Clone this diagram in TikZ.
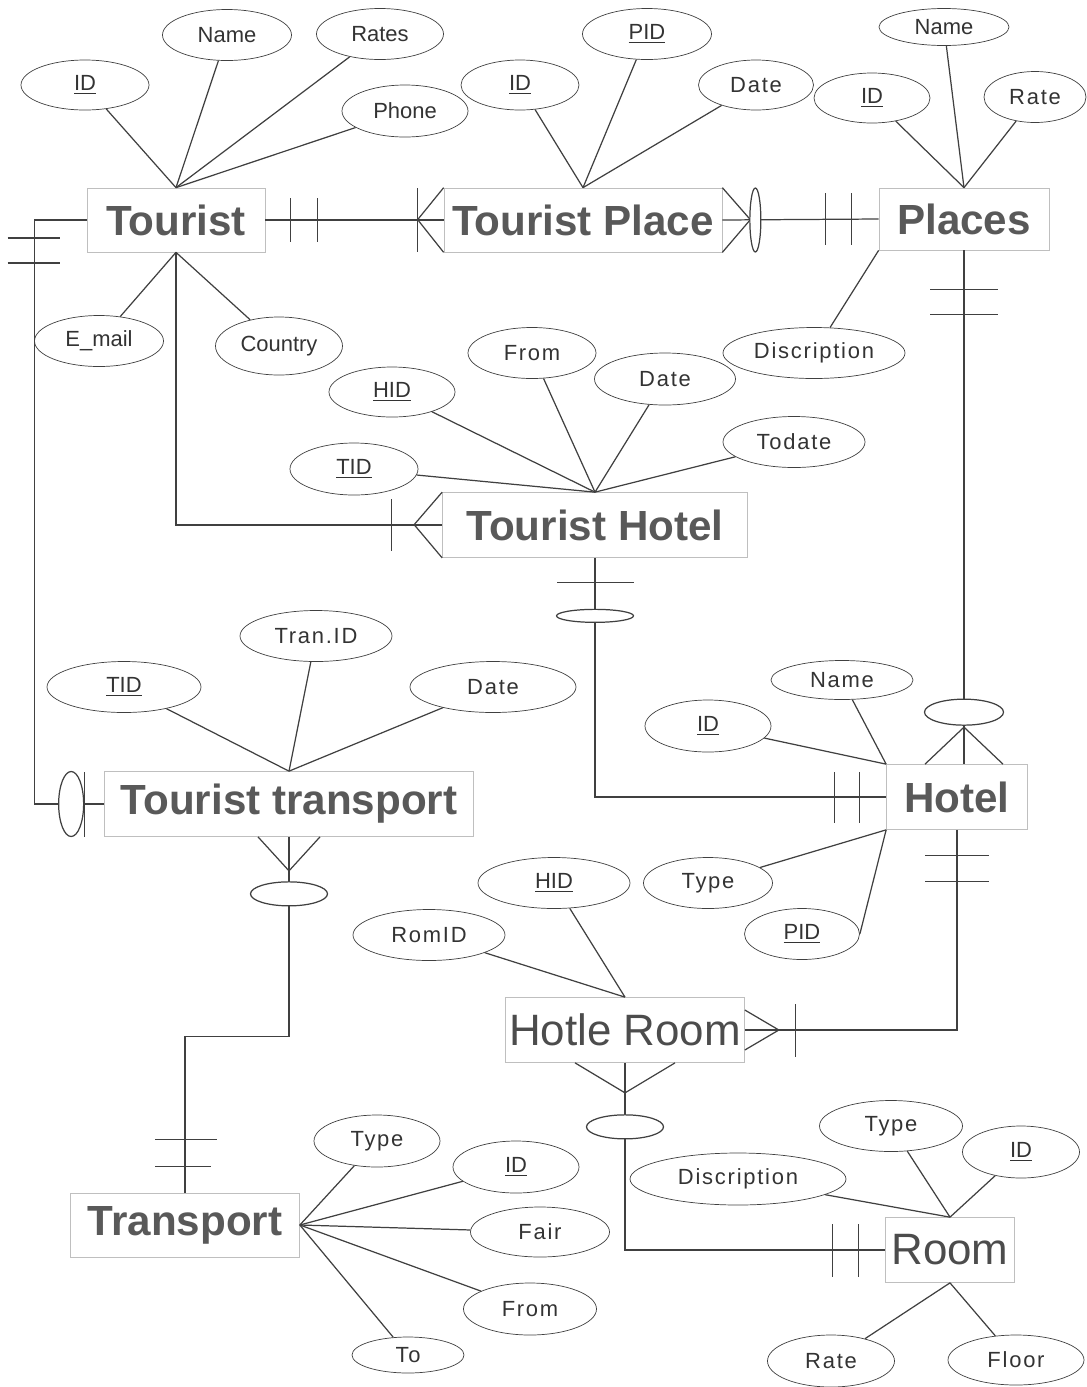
\documentclass[tikz,border=0pt]{standalone}
\usepackage{fontspec}
\setmainfont{Liberation Sans}
\newfontfamily\widefont[LetterSpace=8]{Liberation Sans}
\usetikzlibrary{shapes.geometric}

\tikzset{
  dims/.style 2 args={minimum width=#1*0.02cm, minimum height=#2*0.02cm},
  entity/.style={draw=black!25, rectangle, inner sep=0pt, text=black!65,
                 font=\fontsize{24}{28}\selectfont\bfseries},
  lightface/.style={font=\fontsize{25}{29}\selectfont, text=black!70},
  attr/.style={draw=black!75, ellipse, inner sep=0pt, text=black!80,
               font=\fontsize{12.5}{15}\selectfont},
  wattr/.style={attr, font=\fontsize{12.5}{15}\selectfont\widefont},
  link/.style={draw=black!75, line width=0.7pt},
}

\begin{document}
\begin{tikzpicture}[x=0.02cm, y=-0.02cm]
  \useasboundingbox (0,0) rectangle (1087,1387);

  % entities
  \node[entity, dims={178}{64}] (tourist)   at (176,220)  {Tourist};
  \node[entity, dims={278}{64}] (tplace)    at (583,220)  {Tourist Place};
  \node[entity, dims={170}{62}] (places)    at (964,219)  {Places};
  \node[entity, dims={305}{65}] (thotel)    at (595,525)  {Tourist Hotel};
  \node[entity, dims={369}{65}] (ttrans)    at (289,804)  {Tourist transport};
  \node[entity, dims={141}{65}] (hotel)     at (957,797)  {Hotel};
  \node[entity, lightface, dims={239}{65}] (hroom) at (625,1030) {Hotle Room};
  \node[entity, dims={229}{64}] (transport) at (185,1225) {Transport};
  \node[entity, lightface, dims={129}{65}] (room)  at (950,1250) {Room};

  % attributes of Tourist
  \node[attr,  dims={128}{50}] (t_id)      at (85,85)    {\underline{ID}};
  \node[attr,  dims={129}{51}] (t_name)    at (227,35)   {Name};
  \node[attr,  dims={127}{51}] (t_rates)   at (380,34)   {Rates};
  \node[attr,  dims={126}{52}] (t_phone)   at (405,111)  {Phone};
  \node[attr,  dims={129}{51}] (t_mail)    at (99,341)   {E\_mail};
  \node[attr,  dims={127}{58}] (t_country) at (279,346)  {Country};

  % attributes of Tourist Place
  \node[attr,  dims={118}{50}] (tp_id)     at (520,85)   {\underline{ID}};
  \node[attr,  dims={129}{51}] (tp_pid)    at (647,34)   {\underline{PID}};
  \node[wattr, dims={115}{50}] (tp_date)   at (756,85)   {Date};

  % attributes of Places
  \node[attr,  dims={130}{37}] (p_name)    at (944,27)   {Name};
  \node[attr,  dims={116}{50}] (p_id)      at (872,98)   {\underline{ID}};
  \node[wattr, dims={102}{51}] (p_rate)    at (1035,97)  {Rate};
  \node[wattr, dims={182}{51}] (p_desc)    at (814,353)  {Discription};

  % attributes of Tourist Hotel
  \node[attr,  dims={126}{50}] (th_hid)    at (392,392)  {\underline{HID}};
  \node[attr,  dims={128}{52}] (th_tid)    at (354,469)  {\underline{TID}};
  \node[wattr, dims={128}{51}] (th_from)   at (532,353)  {From};
  \node[wattr, dims={141}{52}] (th_date)   at (665,379)  {Date};
  \node[wattr, dims={142}{51}] (th_todate) at (794,442)  {Todate};

  % attributes of Tourist transport
  \node[attr,  dims={154}{51}] (tt_tid)    at (124,687)  {\underline{TID}};
  \node[wattr, dims={152}{51}] (tt_tran)   at (316,636)  {Tran.ID};
  \node[wattr, dims={166}{51}] (tt_date)   at (493,687)  {Date};

  % attributes of Hotel
  \node[wattr, dims={142}{39}] (h_name)    at (842,680)  {Name};
  \node[attr,  dims={126}{52}] (h_id)      at (708,726)  {\underline{ID}};
  \node[wattr, dims={129}{51}] (h_type)    at (708,883)  {Type};
  \node[attr,  dims={115}{51}] (h_pid)     at (802,934)  {\underline{PID}};

  % attributes of Hotle Room
  \node[attr,  dims={152}{51}] (hr_hid)    at (554,883)  {\underline{HID}};
  \node[wattr, dims={152}{51}] (hr_romid)  at (429,935)  {RomID};

  % attributes of Transport
  \node[wattr, dims={126}{52}] (tr_type)   at (377,1141) {Type};
  \node[attr,  dims={126}{52}] (tr_id)     at (516,1167) {\underline{ID}};
  \node[wattr, dims={139}{50}] (tr_fair)   at (540,1232) {Fair};
  \node[wattr, dims={133}{52}] (tr_from)   at (530,1309) {From};
  \node[wattr, dims={112}{36}] (tr_to)     at (408,1355) {To};

  % attributes of Room
  \node[wattr, dims={216}{52}] (r_desc)    at (738,1179) {Discription};
  \node[wattr, dims={143}{51}] (r_type)    at (891,1126) {Type};
  \node[attr,  dims={117}{52}] (r_id)      at (1021,1152) {\underline{ID}};
  \node[wattr, dims={127}{52}] (r_rate)    at (831,1361) {Rate};
  \node[wattr, dims={136}{50}] (r_floor)   at (1016,1360) {Floor};

  % attribute links
  \foreach \a in {t_id,t_name,t_rates,t_phone} \draw[link] (\a) -- (tourist.north);
  \foreach \a in {t_mail,t_country} \draw[link] (\a) -- (tourist.south);
  \foreach \a in {tp_id,tp_pid,tp_date} \draw[link] (\a) -- (tplace.north);
  \foreach \a in {p_id,p_name,p_rate} \draw[link] (\a) -- (places.north);
  \draw[link] (p_desc) -- (places.south west);
  \foreach \a in {th_hid,th_tid,th_from,th_date,th_todate} \draw[link] (\a) -- (thotel.north);
  \foreach \a in {tt_tid,tt_tran,tt_date} \draw[link] (\a) -- (ttrans.north);
  \foreach \a in {h_id,h_name} \draw[link] (\a) -- (hotel.north west);
  \draw[link] (h_type) -- (hotel.south west);
  \draw[link] (h_pid.east) -- (hotel.south west);
  \foreach \a in {hr_hid,hr_romid} \draw[link] (\a) -- (hroom.north);
  \foreach \a in {tr_type,tr_id,tr_fair,tr_from,tr_to} \draw[link] (\a) -- (transport.east);
  \foreach \a in {r_desc,r_type,r_id} \draw[link] (\a) -- (room.north);
  \foreach \a in {r_rate,r_floor} \draw[link] (\a) -- (room.south);

  % Tourist -- Tourist Place
  \draw[link] (tourist.east) -- (tplace.west);
  \draw[link] (tourist.east) ++(25,-22) -- ++(0,44);
  \draw[link] (tourist.east) ++(52,-22) -- ++(0,44);
  \draw[link] (tplace.north west) -- ++(-26,32) -- (tplace.south west);
  \draw[link] (tplace.west) ++(-26,-32) -- ++(0,64);

  % Tourist Place -- Places
  \draw[link] (tplace.east) -- (places.west);
  \draw[link] (tplace.north east) -- ++(28,32) -- (tplace.south east);
  \draw[link, fill=white] (tplace.east) ++(33,0) ellipse [x radius=5.5, y radius=32];
  \draw[link] (places.west) ++(-53,-26) -- ++(0,52);
  \draw[link] (places.west) ++(-27,-26) -- ++(0,52);

  % Places -- Hotel
  \draw[link] (places.south) -- (places.south |- hotel.north);
  \draw[link] (places.south) ++(-34,39) -- ++(68,0);
  \draw[link] (places.south) ++(-34,64) -- ++(68,0);
  \draw[link, fill=white] (places.south |- hotel.north) ++(0,-52) ellipse [x radius=39.5, y radius=13];
  \draw[link] (places.south |- hotel.north) ++(-39,0) -- ++(39,-37) -- ++(39,37);

  % Tourist -- Tourist Hotel
  \draw[link] (tourist.south) |- (thotel.west);
  \draw[link] (thotel.west) ++(-51,-26) -- ++(0,52);
  \draw[link] (thotel.north west) -- ++(-28,32.5) -- (thotel.south west);

  % Tourist Hotel -- Hotel
  \draw[link] (thotel.south) |- (hotel.west);
  \draw[link] (thotel.south) ++(-38,25) -- ++(77,0);
  \draw[link, fill=white] (thotel.south) ++(0,58) ellipse [x radius=38.5, y radius=6.5];
  \draw[link] (hotel.west) ++(-52,-25) -- ++(0,51);
  \draw[link] (hotel.west) ++(-27,-25) -- ++(0,51);

  % Tourist -- Tourist transport
  \draw[link] (tourist.west) -- ++(-52,0) |- (ttrans.west);
  \draw[link] (tourist.west) ++(-79,18) -- ++(52,0);
  \draw[link] (tourist.west) ++(-79,43) -- ++(52,0);
  \draw[link, fill=white] (ttrans.west) ++(-33,0) ellipse [x radius=12.5, y radius=32.5];
  \draw[link] (ttrans.west) ++(-20,-32) -- ++(0,65);

  % Tourist transport -- Transport
  \draw[link] (ttrans.south) -- ++(0,200) -| (transport.north);
  \draw[link] (ttrans.south) ++(-31,0) -- ++(31,34) -- ++(31,-34);
  \draw[link, fill=white] (ttrans.south) ++(0,57) ellipse [x radius=38.5, y radius=12];
  \draw[link] (transport.north) ++(-30,-53) -- ++(62,0);
  \draw[link] (transport.north) ++(-30,-26) -- ++(56,0);

  % Hotel -- Hotle Room
  \draw[link] (hotel.south) |- (hroom.east);
  \draw[link] (hotel.south) ++(-32,26) -- ++(64,0);
  \draw[link] (hotel.south) ++(-32,52) -- ++(64,0);
  \draw[link] (hroom.east) ++(0,-20) -- ++(34,20) -- ++(-34,20);
  \draw[link] (hroom.east) ++(51,-26) -- ++(0,53);

  % Hotle Room -- Room
  \draw[link] (hroom.south) |- (room.west);
  \draw[link] (hroom.south) ++(-50,0) -- ++(50,30) -- ++(50,-30);
  \draw[link, fill=white] (hroom.south) ++(0,64) ellipse [x radius=38.5, y radius=12];
  \draw[link] (room.west) ++(-53,-26) -- ++(0,53);
  \draw[link] (room.west) ++(-27,-26) -- ++(0,53);

\end{tikzpicture}
\end{document}
